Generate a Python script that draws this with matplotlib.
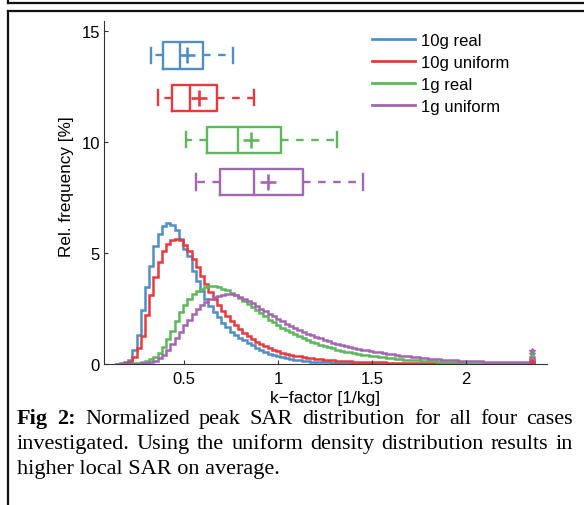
import numpy as np
import matplotlib
matplotlib.use('Agg')
import matplotlib.pyplot as plt
from matplotlib.lines import Line2D

W, H = 584, 506

series_names = ['10g real', '10g uniform', '1g real', '1g uniform']
series_colors = ['#4f8fc6', '#e8393e', '#5cb85a', '#a466b3']

bin_start = 0.135
bin_width = 0.0225

hist_10g_real = [
    0.01, 0.03, 0.08, 0.2, 0.65, 1.3, 2.45, 3.45, 4.4, 5.3,
    5.85, 6.2, 6.35, 6.27, 6.05, 5.65, 5.2, 4.85, 4.2, 3.75,
    3.3, 2.95, 2.6, 2.35, 2.1, 1.85, 1.65, 1.45, 1.3, 1.18,
    1.06, 0.95, 0.84, 0.73, 0.63, 0.54, 0.46, 0.39, 0.34, 0.3,
    0.26, 0.22, 0.19, 0.17, 0.15, 0.13, 0.11, 0.1, 0.09, 0.08,
    0.07, 0.06, 0.055, 0.05, 0.045, 0.04, 0.035, 0.03, 0.028, 0.025,
    0.022, 0.02, 0.018, 0.016, 0.015, 0.014, 0.013, 0.012, 0.011, 0.01,
    0.01, 0.009, 0.009, 0.008, 0.008, 0.007, 0.007, 0.006, 0.006, 0.006,
    0.005, 0.005, 0.005, 0.005, 0.004, 0.004, 0.004, 0.004, 0.004, 0.003,
    0.003, 0.003, 0.003, 0.003, 0.003, 0.003, 0.003, 0.003, 0.02]

hist_10g_uniform = [
    0.01, 0.02, 0.04, 0.1, 0.3, 0.7, 1.25, 2.2, 3.1, 3.9,
    4.6, 5.1, 5.4, 5.6, 5.65, 5.6, 5.35, 5.1, 4.75, 4.35,
    3.95, 3.6, 3.25, 2.95, 2.65, 2.4, 2.15, 1.95, 1.75, 1.57,
    1.4, 1.26, 1.13, 1.0, 0.9, 0.8, 0.72, 0.64, 0.57, 0.51,
    0.46, 0.41, 0.37, 0.34, 0.31, 0.28, 0.25, 0.23, 0.21, 0.19,
    0.18, 0.16, 0.15, 0.14, 0.13, 0.12, 0.11, 0.1, 0.095, 0.09,
    0.085, 0.08, 0.075, 0.07, 0.065, 0.06, 0.056, 0.052, 0.048, 0.045,
    0.042, 0.04, 0.037, 0.035, 0.033, 0.031, 0.029, 0.027, 0.025, 0.024,
    0.022, 0.021, 0.02, 0.019, 0.018, 0.017, 0.016, 0.015, 0.014, 0.013,
    0.012, 0.012, 0.011, 0.011, 0.01, 0.01, 0.01, 0.009, 0.06]

hist_1g_real = [
    0.005, 0.01, 0.015, 0.02, 0.03, 0.05, 0.08, 0.14, 0.22, 0.33,
    0.5, 0.78, 1.12, 1.5, 1.95, 2.35, 2.68, 2.95, 3.15, 3.3,
    3.4, 3.47, 3.5, 3.5, 3.46, 3.4, 3.32, 3.22, 3.1, 2.98,
    2.85, 2.7, 2.56, 2.42, 2.28, 2.14, 2.0, 1.88, 1.76, 1.64,
    1.53, 1.43, 1.33, 1.24, 1.16, 1.08, 1.0, 0.93, 0.87, 0.81,
    0.75, 0.7, 0.65, 0.6, 0.56, 0.52, 0.48, 0.45, 0.42, 0.39,
    0.36, 0.34, 0.32, 0.3, 0.28, 0.26, 0.24, 0.22, 0.2, 0.19,
    0.17, 0.16, 0.15, 0.14, 0.13, 0.12, 0.11, 0.1, 0.09, 0.085,
    0.08, 0.075, 0.07, 0.065, 0.06, 0.055, 0.05, 0.048, 0.045, 0.042,
    0.04, 0.038, 0.036, 0.034, 0.032, 0.03, 0.028, 0.027, 0.2]

hist_1g_uniform = [
    0.005, 0.008, 0.01, 0.012, 0.015, 0.02, 0.03, 0.05, 0.09, 0.15,
    0.25, 0.4, 0.62, 0.88, 1.15, 1.45, 1.75, 2.0, 2.25, 2.47,
    2.65, 2.8, 2.93, 3.02, 3.08, 3.12, 3.14, 3.14, 3.1, 3.03,
    2.95, 2.85, 2.74, 2.62, 2.5, 2.38, 2.26, 2.15, 2.04, 1.93,
    1.82, 1.72, 1.62, 1.53, 1.45, 1.37, 1.29, 1.22, 1.15, 1.08,
    1.02, 0.96, 0.91, 0.86, 0.81, 0.77, 0.73, 0.69, 0.65, 0.62,
    0.58, 0.55, 0.52, 0.49, 0.46, 0.43, 0.41, 0.38, 0.36, 0.34,
    0.32, 0.3, 0.28, 0.26, 0.24, 0.22, 0.21, 0.19, 0.18, 0.17,
    0.16, 0.15, 0.14, 0.13, 0.125, 0.12, 0.115, 0.11, 0.1, 0.095,
    0.09, 0.085, 0.08, 0.078, 0.075, 0.072, 0.07, 0.068, 0.3]

overflow_marker = [0.02, 0.08, 0.45, 0.6]

# boxplot statistics (horizontal boxes)
box_pos = [13.9, 12.0, 10.1, 8.2]
box_whislo = [0.322, 0.363, 0.511, 0.564]
box_q1 = [0.390, 0.435, 0.624, 0.691]
box_med = [0.479, 0.532, 0.789, 0.872]
box_mean = [0.514, 0.581, 0.855, 0.948]
box_q3 = [0.603, 0.674, 1.018, 1.131]
box_whishi = [0.762, 0.872, 1.315, 1.454]

x_ticks = [0.5, 1, 1.5, 2]
x_ticklabels = ['0.5', '1', '1.5', '2']
y_ticks = [0, 5, 10, 15]

xlabel = 'k\u2212factor [1/kg]'
ylabel = 'Rel. frequency [%]'

caption_lines = [
    [('Fig', True), ('2:', True), ('Normalized', False), ('peak', False), ('SAR', False),
     ('distribution', False), ('for', False), ('all', False), ('four', False), ('cases', False)],
    [('investigated.', False), ('Using', False), ('the', False), ('uniform', False),
     ('density', False), ('distribution', False), ('results', False), ('in', False)],
    [('higher local SAR on average.', False)],
]

plt.rcParams['font.family'] = ['Liberation Sans', 'DejaVu Sans']

fig = plt.figure(figsize=(W / 100, H / 100), dpi=100)
fig.patch.set_facecolor('white')

def fx(x):
    return x / W

def fy(y):
    return 1 - y / H

# axes position in pixels
ax_l, ax_r, ax_t, ax_b = 104, 547, 22, 365
ax = fig.add_axes([fx(ax_l), fy(ax_b), (ax_r - ax_l) / W, (ax_b - ax_t) / H])
px_per_x = 188.0
px_per_y = 22.2
x0 = 0.5 - (184 - ax_l) / px_per_x
x1 = x0 + (ax_r - ax_l) / px_per_x
ax.set_xlim(x0, x1)
ax.set_ylim(0, (ax_b - ax_t) / px_per_y)

hists = [hist_10g_real, hist_10g_uniform, hist_1g_real, hist_1g_uniform]
for vals, col, mk in zip(hists, series_colors, overflow_marker):
    n = len(vals)
    edges = bin_start + bin_width * np.arange(n + 1)
    ax.stairs(vals, edges, color=col, lw=1.8, baseline=0)
    ax.plot([edges[-2] + bin_width / 2], [mk], marker='*', color=col, ms=4, lw=0)

for i, col in enumerate(series_colors):
    st = [dict(med=box_med[i], q1=box_q1[i], q3=box_q3[i], whislo=box_whislo[i],
               whishi=box_whishi[i], mean=box_mean[i], fliers=[])]
    kw = dict(positions=[box_pos[i]], widths=1.18, capwidths=0.68, showmeans=True,
              boxprops=dict(color=col, lw=1.7),
              medianprops=dict(color=col, lw=1.7),
              whiskerprops=dict(color=col, lw=1.7, linestyle=(0, (3.2, 3.2))),
              capprops=dict(color=col, lw=1.7),
              meanprops=dict(marker='+', markeredgecolor=col, markersize=11, markeredgewidth=1.9),
              manage_ticks=False)
    try:
        ax.bxp(st, orientation='horizontal', **kw)
    except TypeError:
        ax.bxp(st, vert=False, **kw)

for s in ['top', 'right']:
    ax.spines[s].set_visible(False)
for s in ['left', 'bottom']:
    ax.spines[s].set_color('#333333')
    ax.spines[s].set_linewidth(0.8)

ax.set_xticks(x_ticks)
ax.set_xticklabels(x_ticklabels)
ax.set_yticks(y_ticks)
ax.tick_params(direction='in', length=3, width=0.8, color='#333333', labelsize=12)
ax.tick_params(axis='x', pad=5)
ax.tick_params(axis='y', pad=3)
ax.set_xlabel(xlabel, fontsize=12.5, labelpad=3)
ax.set_ylabel(ylabel, fontsize=12.3, va='center')
# label centre at (67, 187) px
ax.yaxis.set_label_coords((67 - ax_l) / (ax_r - ax_l), (ax_b - 187) / (ax_b - ax_t))

handles = [Line2D([], [], color=c, lw=2) for c in series_colors]
leg = fig.legend(handles, series_names, loc='upper left',
                 bbox_to_anchor=(fx(372), fy(34)), frameon=False, fontsize=12,
                 handlelength=2.6, handletextpad=0.35, labelspacing=0.42,
                 borderpad=0, borderaxespad=0)

# frame lines (page layout)
frame_kw = dict(color='#111111', lw=1.6, transform=fig.transFigure)
fig.add_artist(Line2D([fx(8), fx(584)], [fy(4), fy(4)], **frame_kw))
fig.add_artist(Line2D([fx(8), fx(8)], [fy(0), fy(4)], **frame_kw))
fig.add_artist(Line2D([fx(8), fx(584)], [fy(11.5), fy(11.5)], **frame_kw))
fig.add_artist(Line2D([fx(8), fx(8)], [fy(11.5), fy(506)], **frame_kw))

# justified caption
cap_left, cap_right = 17, 573
baselines = [424, 449, 474]
cap_size = 16
fig.canvas.draw()
renderer = fig.canvas.get_renderer()
for li, words in enumerate(caption_lines):
    texts = []
    for w, bold in words:
        t = fig.text(0, fy(baselines[li]), w, family='Liberation Serif', fontsize=cap_size,
                     fontweight='bold' if bold else 'normal', va='baseline', ha='left')
        texts.append(t)
    widths = [t.get_window_extent(renderer).width for t in texts]
    if len(texts) > 1:
        gap = (cap_right - cap_left - sum(widths)) / (len(texts) - 1)
    else:
        gap = 0
    x = cap_left
    for t, wd in zip(texts, widths):
        t.set_x(fx(x))
        x += wd + gap

fig.savefig('out.png', dpi=100)
